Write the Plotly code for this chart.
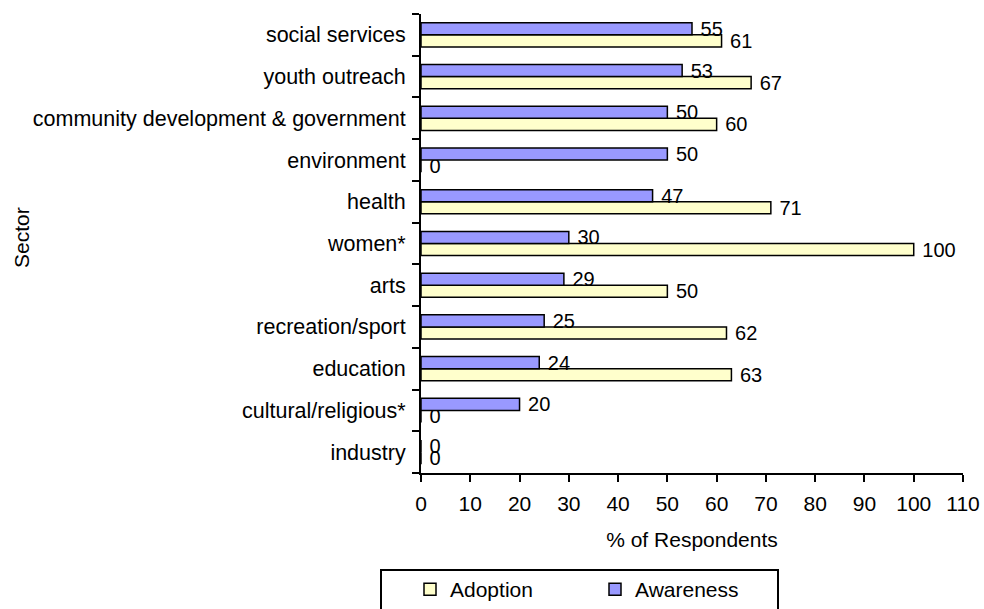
import plotly.graph_objects as go

# Sectors, listed from the bottom of the chart to the top
sectors = [
    "industry",
    "cultural/religious*",
    "education",
    "recreation/sport",
    "arts",
    "women*",
    "health",
    "environment",
    "community development & government",
    "youth outreach",
    "social services",
]

adoption = [0, 0, 63, 62, 50, 100, 71, 0, 60, 67, 61]
awareness = [0, 20, 24, 25, 29, 30, 47, 50, 50, 53, 55]

x_ticks = list(range(0, 111, 10))

FONT = "Liberation Sans, Arial, sans-serif"
W, H = 984, 609

# value labels sit a little to the right of each bar end
LABEL = "\u00a0%{x}"

fig = go.Figure()

fig.add_trace(go.Bar(
    name="Adoption",
    y=sectors,
    x=adoption,
    orientation="h",
    marker=dict(color="#FFFFCC", line=dict(color="black", width=1.5)),
    texttemplate=LABEL,
    textposition="outside",
    constraintext="none",
    cliponaxis=False,
    hoverinfo="x+y+name",
    textfont=dict(family=FONT, size=20, color="black"),
    outsidetextfont=dict(family=FONT, size=20, color="black"),
))

fig.add_trace(go.Bar(
    name="Awareness",
    y=sectors,
    x=awareness,
    orientation="h",
    marker=dict(color="#9999FF", line=dict(color="black", width=1.5)),
    texttemplate=LABEL,
    textposition="outside",
    constraintext="none",
    cliponaxis=False,
    hoverinfo="x+y+name",
    textfont=dict(family=FONT, size=20, color="black"),
    outsidetextfont=dict(family=FONT, size=20, color="black"),
))

fig.update_layout(
    width=W,
    height=H,
    margin=dict(l=421, r=21, t=14, b=136, autoexpand=False),
    paper_bgcolor="white",
    plot_bgcolor="white",
    barmode="group",
    bargap=0.42,
    bargroupgap=0,
    font=dict(family=FONT, size=21, color="black"),
    showlegend=True,
    legend=dict(
        orientation="h",
        xref="container",
        yref="container",
        x=410 / W,
        xanchor="left",
        y=1 - 569 / H,
        yanchor="top",
        entrywidth=140,
        font=dict(family=FONT, size=21, color="black"),
        bgcolor="rgba(0,0,0,0)",
        borderwidth=0,
    ),
    xaxis=dict(
        range=[0, 110],
        tickmode="array",
        tickvals=x_ticks,
        ticktext=[str(t) for t in x_ticks],
        ticks="outside",
        ticklen=7,
        tickwidth=2,
        tickcolor="black",
        showline=True,
        linecolor="black",
        linewidth=2,
        showgrid=False,
        zeroline=False,
        automargin=False,
        ticklabelstandoff=4,
        tickfont=dict(family=FONT, size=21, color="black"),
        title=dict(text="% of Respondents", standoff=18,
                   font=dict(family=FONT, size=21, color="black")),
    ),
    yaxis=dict(
        type="category",
        categoryorder="array",
        categoryarray=sectors,
        ticks="outside",
        tickson="boundaries",
        ticklen=7,
        tickwidth=2,
        tickcolor="black",
        showline=True,
        linecolor="black",
        linewidth=2,
        showgrid=False,
        zeroline=False,
        automargin=False,
        ticklabelstandoff=9,
        tickfont=dict(family=FONT, size=21.5, color="black"),
    ),
)

# y-axis title
fig.add_annotation(
    text="Sector",
    xref="paper", yref="paper",
    x=(21 - 421) / 542, y=(473 - 238) / 459,
    xanchor="center", yanchor="middle",
    textangle=-90,
    showarrow=False,
    font=dict(family=FONT, size=21, color="black"),
)

# legend frame
fig.add_shape(
    type="rect",
    xref="paper", yref="paper",
    x0=(381 - 421) / 542, x1=(778 - 421) / 542,
    y0=(473 - 620) / 459, y1=(473 - 570) / 459,
    line=dict(color="black", width=2),
    fillcolor="rgba(0,0,0,0)",
    layer="below",
)

fig.write_html("out.html")
